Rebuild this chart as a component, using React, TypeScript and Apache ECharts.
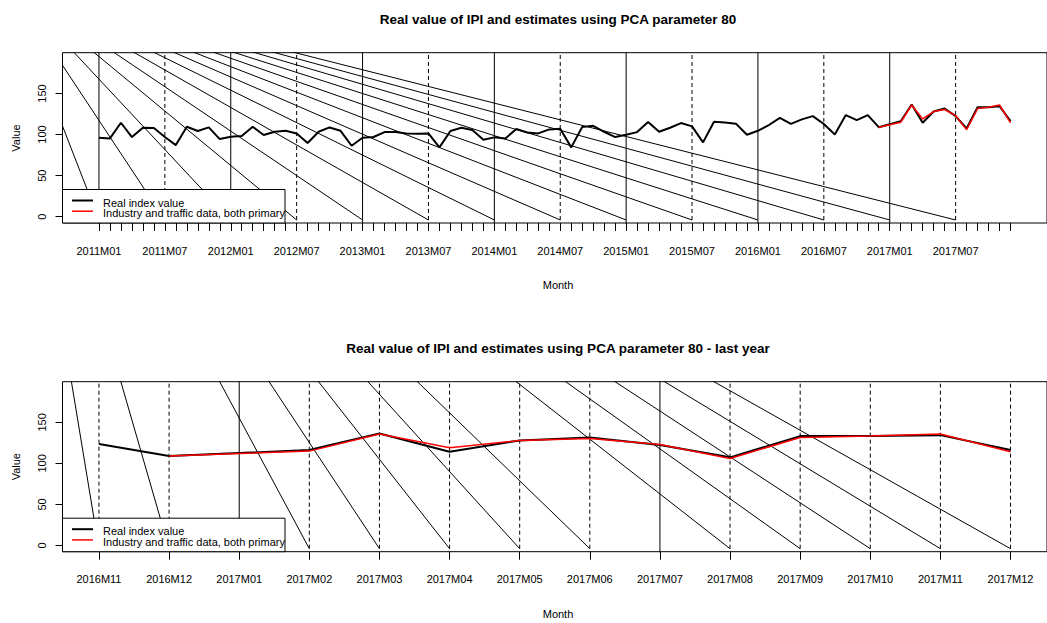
import React, { useEffect, useRef } from "react";
import * as echarts from "echarts";

// ---------- data ----------
const years = [2011, 2012, 2013, 2014, 2015, 2016, 2017];
const monthCodes = ["01", "02", "03", "04", "05", "06", "07", "08", "09", "10", "11", "12"];
const monthLabels = years.flatMap((y) => monthCodes.map((m) => `${y}M${m}`));

// Real index value, 2011M01 .. 2017M12
const realIndex = [
  96.1, 95.3, 114.4, 97.0, 108.3, 107.9, 97.0, 87.2, 109.5, 104.3, 108.7, 94.5,
  97.4, 98.2, 109.5, 99.4, 103.4, 104.6, 101.4, 89.7, 103.4, 108.7, 104.6, 86.4,
  96.1, 97.0, 103.0, 103.0, 101.4, 101.0, 101.4, 84.4, 104.3, 108.3, 105.5, 93.7,
  96.6, 95.3, 106.7, 102.6, 101.4, 106.3, 107.1, 84.4, 109.1, 110.7, 103.4, 97.0,
  99.8, 103.0, 115.4, 103.4, 108.3, 114.0, 110.0, 90.5, 115.6, 114.8, 113.1, 99.8,
  104.6, 111.6, 120.4, 113.1, 118.5, 122.5, 112.8, 100.2, 123.7, 117.6, 123.6, 109.0,
  112.6, 116.3, 136.6, 114.3, 128.0, 131.7, 122.4, 107.4, 133.3, 133.3, 134.5, 116.3,
];

// Estimate "Industry and traffic data, both primary", 2016M12 .. 2017M12
const estimate = [109.0, 112.0, 115.0, 136.0, 119.0, 128.0, 130.5, 123.0, 106.0, 131.7, 133.3, 136.0, 114.3];
const estimateStartMonth = 72; // 2016M12 (1-based month number)
const lastYearStartMonth = 71; // 2016M11

// tick positions (1-based month numbers)
const topTickMonths = monthLabels.map((_, i) => i + 1);
const topLabelMonths = [1, 7, 13, 19, 25, 31, 37, 43, 49, 55, 61, 67, 73, 79];
const bottomTickMonths = [1, 2, 3, 4, 5, 6, 7, 8, 9, 10, 11, 12, 13, 14];
const yTicks = [0, 50, 100, 150];

// reference lines
const topSolidMonths = [1, 13, 25, 37, 49, 61, 73];
const topDashedMonths = [7, 19, 31, 43, 55, 67, 79];
const topFanEnds = [1, 7, 13, 19, 25, 31, 37, 43, 49, 55, 61, 67, 73, 79];
const topFanOrigin = [-7.5, 289];
const bottomSolidMonths = [3, 9];
const bottomDashedMonths = [1, 2, 4, 5, 6, 7, 8, 10, 11, 12, 13, 14];
const bottomFanEnds = [1, 2, 4, 5, 6, 7, 8, 10, 11, 12, 13, 14];
const bottomFanOrigin = [-0.33, 686];
const refLineLow = -4;
const yRange = [-7.68, 199.68];
const topXRange = [-2.32, 87.32];
const bottomXRange = [0.48, 14.52];

const FONT = "'Liberation Sans', Arial, Helvetica, sans-serif";

function seg(g: number, pts: number[][], dashed: boolean) {
  return {
    type: "line",
    xAxisIndex: g,
    yAxisIndex: g,
    data: pts,
    symbol: "none",
    silent: true,
    clip: true,
    z: 1,
    lineStyle: { color: "#000", width: 1, type: dashed ? [4, 3] : "solid" },
  };
}

function buildOption() {
  const series: any[] = [];
  // top chart reference lines
  topSolidMonths.forEach((m) => series.push(seg(0, [[m, -20], [m, 300]], false)));
  topDashedMonths.forEach((m) => series.push(seg(0, [[m, refLineLow], [m, 300]], true)));
  topFanEnds.forEach((m) => series.push(seg(0, [topFanOrigin, [m, refLineLow]], false)));
  // bottom chart reference lines
  bottomSolidMonths.forEach((m) => series.push(seg(1, [[m, -20], [m, 300]], false)));
  bottomDashedMonths.forEach((m) => series.push(seg(1, [[m, refLineLow], [m, 300]], true)));
  bottomFanEnds.forEach((m) => series.push(seg(1, [bottomFanOrigin, [m, refLineLow]], false)));

  // data series
  series.push({
    type: "line",
    name: "Real index value",
    xAxisIndex: 0,
    yAxisIndex: 0,
    data: realIndex.map((v, i) => [i + 1, v]),
    symbol: "none",
    z: 3,
    lineStyle: { color: "#000", width: 2 },
  });
  series.push({
    type: "line",
    name: "Industry and traffic data, both primary",
    xAxisIndex: 0,
    yAxisIndex: 0,
    data: estimate.map((v, k) => [estimateStartMonth + k, v]),
    symbol: "none",
    z: 4,
    lineStyle: { color: "#ff0000", width: 1.5 },
  });
  series.push({
    type: "line",
    name: "Real index value",
    xAxisIndex: 1,
    yAxisIndex: 1,
    data: realIndex.slice(lastYearStartMonth - 1).map((v, k) => [k + 1, v]),
    symbol: "none",
    z: 3,
    lineStyle: { color: "#000", width: 2 },
  });
  series.push({
    type: "line",
    name: "Industry and traffic data, both primary",
    xAxisIndex: 1,
    yAxisIndex: 1,
    data: estimate.map((v, k) => [estimateStartMonth - lastYearStartMonth + 1 + k, v]),
    symbol: "none",
    z: 4,
    lineStyle: { color: "#ff0000", width: 1.5 },
  });

  const xAxisCommon = {
    type: "value",
    position: "bottom",
    axisLine: { show: false, onZero: false },
    splitLine: { show: false },
  };
  const yAxisCommon = {
    type: "value",
    position: "left",
    min: yRange[0],
    max: yRange[1],
    axisLine: { show: false, onZero: false },
    splitLine: { show: false },
    axisTick: { show: true, inside: false, customValues: yTicks, length: 7, lineStyle: { color: "#000", width: 1 } },
    axisLabel: {
      customValues: yTicks,
      rotate: 90,
      margin: 15,
      fontSize: 11,
      color: "#000",
      fontFamily: FONT,
    },
  };

  const legendBlock = (top: number) => [
    {
      type: "rect",
      z: 100,
      shape: { x: 62.5, y: top, width: 222.5, height: 33.5 },
      style: { fill: "#fff", stroke: "#000", lineWidth: 1 },
    },
    {
      type: "line",
      z: 101,
      shape: { x1: 72, y1: top + 11, x2: 93, y2: top + 11 },
      style: { stroke: "#000", lineWidth: 2 },
    },
    {
      type: "line",
      z: 101,
      shape: { x1: 72, y1: top + 21.7, x2: 93, y2: top + 21.7 },
      style: { stroke: "#ff0000", lineWidth: 1.5 },
    },
    {
      type: "text",
      z: 101,
      x: 103,
      y: top + 13,
      style: { text: "Real index value", fill: "#000", font: `11px ${FONT}`, verticalAlign: "middle", align: "left" },
    },
    {
      type: "text",
      z: 101,
      x: 103,
      y: top + 23.3,
      style: {
        text: "Industry and traffic data, both primary",
        fill: "#000",
        font: `11px ${FONT}`,
        verticalAlign: "middle",
        align: "left",
      },
    },
  ];

  const txt = (text: string, x: number, y: number, font: string, rotation = 0) => ({
    type: "text",
    z: 100,
    x,
    y,
    rotation,
    style: { text, fill: "#000", font, align: "center", verticalAlign: "middle" },
  });

  return {
    animation: false,
    backgroundColor: "#fff",
    textStyle: { fontFamily: FONT },
    grid: [
      { left: 62.5, top: 52.7, width: 992.6, height: 170.3, show: true, borderColor: "#000", borderWidth: 1, backgroundColor: "transparent" },
      { left: 62.5, top: 381.7, width: 992.6, height: 170, show: true, borderColor: "#000", borderWidth: 1, backgroundColor: "transparent" },
    ],
    xAxis: [
      {
        ...xAxisCommon,
        gridIndex: 0,
        min: topXRange[0],
        max: topXRange[1],
        axisTick: { show: true, inside: false, customValues: topTickMonths, length: 8, lineStyle: { color: "#000", width: 1 } },
        axisLabel: {
          customValues: topLabelMonths,
          formatter: (v: number) => monthLabels[Math.round(v) - 1] ?? "",
          margin: 22,
          fontSize: 11,
          color: "#000",
          fontFamily: FONT,
        },
      },
      {
        ...xAxisCommon,
        gridIndex: 1,
        min: bottomXRange[0],
        max: bottomXRange[1],
        axisTick: { show: true, inside: false, customValues: bottomTickMonths, length: 8, lineStyle: { color: "#000", width: 1 } },
        axisLabel: {
          customValues: bottomTickMonths,
          formatter: (v: number) => monthLabels[lastYearStartMonth - 2 + Math.round(v)] ?? "",
          margin: 22,
          fontSize: 11,
          color: "#000",
          fontFamily: FONT,
        },
      },
    ],
    yAxis: [
      { ...yAxisCommon, gridIndex: 0 },
      { ...yAxisCommon, gridIndex: 1 },
    ],
    series,
    graphic: [
      txt("Real value of IPI and estimates using PCA parameter 80", 558, 19, `bold 13.5px ${FONT}`),
      txt("Real value of IPI and estimates using PCA parameter 80 - last year", 558, 348, `bold 13.5px ${FONT}`),
      txt("Month", 558, 285, `11px ${FONT}`),
      txt("Month", 558, 614, `11px ${FONT}`),
      txt("Value", 16, 138, `11px ${FONT}`, Math.PI / 2),
      txt("Value", 16, 466.7, `11px ${FONT}`, Math.PI / 2),
      ...legendBlock(189.5),
      ...legendBlock(518.2),
    ],
  };
}

export default function App() {
  const ref = useRef<HTMLDivElement>(null);
  useEffect(() => {
    if (!ref.current) return;
    const chart = echarts.init(ref.current, undefined, { renderer: "svg" });
    chart.setOption(buildOption() as any);
    return () => chart.dispose();
  }, []);
  return (
    <div
      ref={ref}
      style={{ position: "absolute", left: 0, top: 0, width: 1047, height: 623, background: "#fff" }}
    />
  );
}
